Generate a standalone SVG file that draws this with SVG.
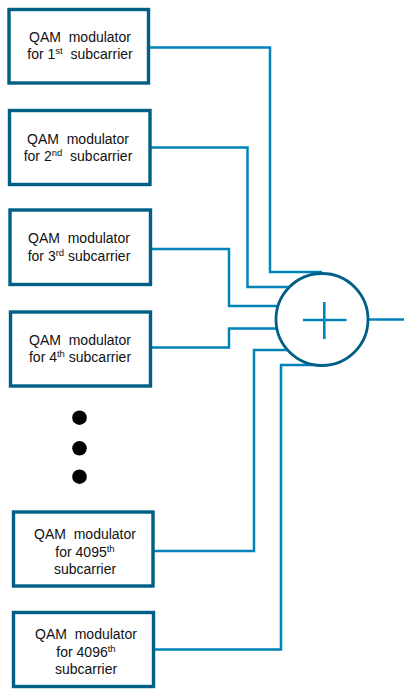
<svg xmlns="http://www.w3.org/2000/svg" width="414" height="698" viewBox="0 0 414 698">
<style>
.box{fill:#fff;stroke:#005f86;stroke-width:3.4}
.t{font-family:"Liberation Sans",Arial,sans-serif;font-size:14px;fill:#111;text-anchor:middle}
.sup{font-size:9.5px}
.wire{fill:none;stroke:#0083b8;stroke-width:2.5}
</style>
<rect width="414" height="698" fill="#fff"/>
<g id="connectors">
<polyline class="wire" points="149,47.5 270,47.5 270,272 322,272"/>
<polyline class="wire" points="150,147.5 247.5,147.5 247.5,287 289,287"/>
<polyline class="wire" points="151,249 229,249 229,306 278,306"/>
<polyline class="wire" points="151,347.5 229,347.5 229,328.5 277,328.5"/>
<polyline class="wire" points="154,551 254,551 254,350 288,350"/>
<polyline class="wire" points="154,649.5 281,649.5 281,365 322,365"/>
<line class="wire" x1="368" y1="319.5" x2="404" y2="319.5"/>
</g>
<g id="box1">
<rect class="box" x="9" y="9.5" width="139.5" height="73.5"/>
<text class="t" x="80" y="41.5" xml:space="preserve">QAM  modulator</text>
<text class="t" x="80" y="58.5" xml:space="preserve">for 1<tspan class="sup" dy="-5">st</tspan><tspan dy="5">  subcarrier</tspan></text>
</g>
<g id="box2">
<rect class="box" x="9.5" y="110.5" width="140.5" height="74"/>
<text class="t" x="78" y="143.5" xml:space="preserve">QAM  modulator</text>
<text class="t" x="78" y="160.5" xml:space="preserve">for 2<tspan class="sup" dy="-5">nd</tspan><tspan dy="5">  subcarrier</tspan></text>
</g>
<g id="box3">
<rect class="box" x="10" y="210" width="140.5" height="74.5"/>
<text class="t" x="79" y="243.3" xml:space="preserve">QAM  modulator</text>
<text class="t" x="79" y="260.5" xml:space="preserve">for 3<tspan class="sup" dy="-5">rd</tspan><tspan dy="5"> subcarrier</tspan></text>
</g>
<g id="box4">
<rect class="box" x="10.5" y="312" width="140" height="74"/>
<text class="t" x="80" y="344.5" xml:space="preserve">QAM  modulator</text>
<text class="t" x="80" y="361.5" xml:space="preserve">for 4<tspan class="sup" dy="-5">th</tspan><tspan dy="5"> subcarrier</tspan></text>
</g>
<g id="dots" fill="#000">
<circle cx="79.5" cy="417.7" r="7.3"/>
<circle cx="79.5" cy="448.3" r="7.3"/>
<circle cx="79.5" cy="476.7" r="7.3"/>
</g>
<g id="box4095">
<rect class="box" x="13.5" y="512" width="139.5" height="74"/>
<text class="t" x="85" y="539" xml:space="preserve">QAM  modulator</text>
<text class="t" x="85" y="556.5">for 4095<tspan class="sup" dy="-5">th</tspan></text>
<text class="t" x="85" y="574">subcarrier</text>
</g>
<g id="box4096">
<rect class="box" x="13.5" y="612.5" width="140" height="74"/>
<text class="t" x="86" y="639" xml:space="preserve">QAM  modulator</text>
<text class="t" x="86" y="656.5">for 4096<tspan class="sup" dy="-5">th</tspan></text>
<text class="t" x="86" y="674">subcarrier</text>
</g>
<g id="summer">
<circle cx="322" cy="319.5" r="46" fill="#fff" stroke="#005f86" stroke-width="2.8"/>
<line x1="303" y1="320" x2="346.5" y2="320" stroke="#0083b8" stroke-width="2.6"/>
<line x1="324.3" y1="302" x2="324.3" y2="339" stroke="#0083b8" stroke-width="2.6"/>
</g>
</svg>
